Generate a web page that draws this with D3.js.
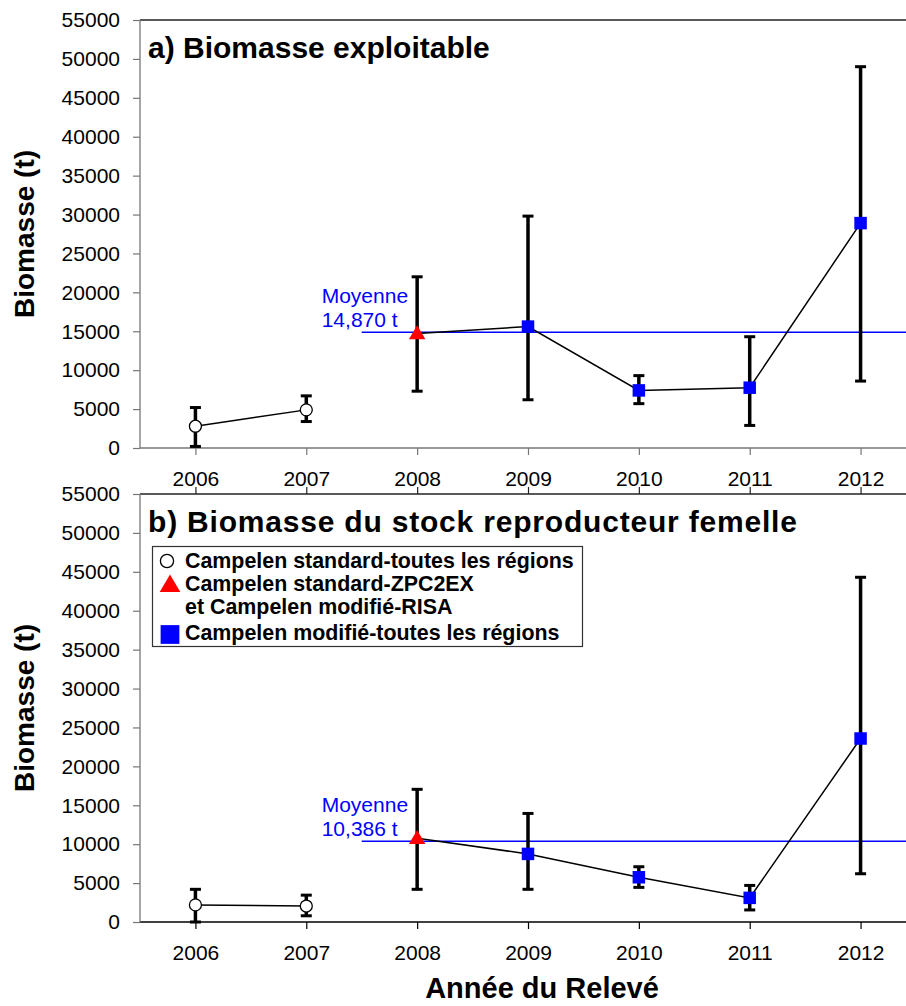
<!DOCTYPE html>
<html>
<head>
<meta charset="utf-8">
<script src="https://cdn.jsdelivr.net/npm/d3@7"></script>
<style>
  html, body { margin: 0; padding: 0; background: #fff; }
  svg { display: block; }
  text { font-family: "Liberation Sans", Arial, Helvetica, sans-serif; }
</style>
</head>
<body>
<svg id="chart" width="906" height="1006"></svg>
<script>
// ---------- data ----------
const years = [2006, 2007, 2008, 2009, 2010, 2011, 2012];
const markerTypes = ["circle", "circle", "triangle", "square", "square", "square", "square"];
const connectedGroups = [[2006, 2007], [2008, 2009, 2010, 2011, 2012]];

const exploitable     = [2800, 4900, 14700, 15600, 7400, 7750, 28900];
const exploitableLow  = [200, 3400, 7300, 6200, 5700, 2900, 8600];
const exploitableHigh = [5200, 6700, 22000, 29800, 9300, 14300, 49000];
const exploitableMean = 14870;

const spawning     = [2200, 2050, 10750, 8750, 5750, 3100, 23580];
const spawningLow  = [0, 800, 4200, 4200, 4450, 1550, 6200];
const spawningHigh = [4200, 3450, 17050, 13950, 7100, 4700, 44300];
const spawningMean = 10386;

const yTicks = d3.range(0, 55001, 5000);
const panelTitles = ["a) Biomasse exploitable", "b) Biomasse du stock reproducteur femelle"];
const meanLabels = [["Moyenne", "14,870 t"], ["Moyenne", "10,386 t"]];
const legendLabels = [
  "Campelen standard-toutes les régions",
  "Campelen standard-ZPC2EX",
  "et Campelen modifié-RISA",
  "Campelen modifié-toutes les régions"
];
const yAxisTitle = "Biomasse (t)";
const xAxisTitle = "Année du Relevé";
const meanStartYear = 2007.5;

// ---------- layout ----------
const svg = d3.select("#chart");
const W = 906;
const left = 140;
const x = d3.scaleLinear().domain([2005.5, 2012.5]).range([left, 916]);

const panels = [
  { top: 20, bottom: 448, vals: exploitable, lo: exploitableLow, hi: exploitableHigh, mean: exploitableMean, xAxisColor: "#777", topTicks: false, titleSpacing: 0 },
  { top: 494, bottom: 922, vals: spawning, lo: spawningLow, hi: spawningHigh, mean: spawningMean, xAxisColor: "#000", topTicks: true, titleSpacing: 0.8 }
];

function drawMarker(g, type, cx, cy, scale) {
  if (type === "circle") {
    g.append("circle").attr("cx", cx).attr("cy", cy).attr("r", 6 * scale)
      .attr("fill", "#fff").attr("stroke", "#000").attr("stroke-width", 1.3);
  } else if (type === "triangle") {
    const w = 16.5 * scale, h = 14 * scale;
    g.append("path")
      .attr("d", `M${cx},${cy - h * 0.6}L${cx + w / 2},${cy + h * 0.4}L${cx - w / 2},${cy + h * 0.4}Z`)
      .attr("fill", "#ff0000");
  } else {
    const s = 12.5 * scale;
    g.append("rect").attr("x", cx - s / 2).attr("y", cy - s / 2).attr("width", s).attr("height", s)
      .attr("fill", "#0000ff");
  }
}

panels.forEach((p, pi) => {
  const y = d3.scaleLinear().domain([0, 55000]).range([p.bottom, p.top]);
  const g = svg.append("g");

  // top border
  g.append("line").attr("x1", left).attr("x2", W).attr("y1", p.top).attr("y2", p.top)
    .attr("stroke", "#222").attr("stroke-width", 1.3);
  if (p.topTicks) {
    const ta = g.append("g").attr("transform", `translate(0,${p.top})`)
      .call(d3.axisTop(x).tickValues(years).tickSize(7).tickFormat(""));
    ta.select(".domain").remove();
    ta.selectAll("line").attr("stroke", "#222").attr("stroke-width", 1.2);
  }

  // x axis
  const xa = g.append("g").attr("transform", `translate(0,${p.bottom})`)
    .call(d3.axisBottom(x).tickValues(years).tickSize(7).tickFormat(d3.format("d")));
  xa.select(".domain").remove();
  xa.append("line").attr("x1", left).attr("x2", W).attr("y1", 0).attr("y2", 0)
    .attr("stroke", p.xAxisColor).attr("stroke-width", 1.3);
  xa.selectAll(".tick line").attr("stroke", p.xAxisColor).attr("stroke-width", 1.2);
  xa.selectAll(".tick text").attr("y", 38).attr("dy", null)
    .attr("font-size", 21).attr("fill", "#000")
    .style("font-family", '"Liberation Sans", Arial, sans-serif');

  // y axis
  const ya = g.append("g").attr("transform", `translate(${left},0)`)
    .call(d3.axisLeft(y).tickValues(yTicks).tickSize(7).tickPadding(13).tickFormat(d3.format("d")));
  ya.select(".domain").attr("stroke", "#777").attr("stroke-width", 1.3)
    .attr("d", `M0,${p.top}V${p.bottom}`);
  ya.selectAll(".tick line").attr("stroke", "#777").attr("stroke-width", 1.2);
  ya.selectAll(".tick text").attr("font-size", 21).attr("fill", "#000")
    .style("font-family", '"Liberation Sans", Arial, sans-serif');

  // panel title
  g.append("text").attr("x", 148).attr("y", p.top + 38)
    .attr("font-size", 30).attr("font-weight", "bold")
    .attr("letter-spacing", p.titleSpacing).text(panelTitles[pi]);

  // y axis title
  g.append("text").attr("transform", "rotate(-90)")
    .attr("x", -(p.top + p.bottom) / 2).attr("y", 34)
    .attr("text-anchor", "middle").attr("font-size", 28).attr("font-weight", "bold")
    .text(yAxisTitle);

  // mean line
  const my = y(p.mean);
  g.append("line").attr("x1", x(meanStartYear)).attr("x2", W).attr("y1", my).attr("y2", my)
    .attr("stroke", "#0000ff").attr("stroke-width", 1.5);
  g.append("text").attr("x", 321.7).attr("y", my - 29).attr("font-size", 21).attr("fill", "#0000ff").text(meanLabels[pi][0]);
  g.append("text").attr("x", 321.7).attr("y", my - 5).attr("font-size", 21).attr("fill", "#0000ff").text(meanLabels[pi][1]);

  // connecting lines
  const line = d3.line().x(d => x(d.year)).y(d => y(d.v));
  connectedGroups.forEach(grp => {
    const pts = grp.map(yr => ({ year: yr, v: p.vals[years.indexOf(yr)] }));
    g.append("path").attr("d", line(pts)).attr("fill", "none").attr("stroke", "#000").attr("stroke-width", 1.5);
  });

  // error bars
  years.forEach((yr, i) => {
    const cx = x(yr);
    g.append("line").attr("x1", cx).attr("x2", cx).attr("y1", y(p.lo[i])).attr("y2", y(p.hi[i]))
      .attr("stroke", "#000").attr("stroke-width", 3.5);
    [p.lo[i], p.hi[i]].forEach(v => {
      g.append("line").attr("x1", cx - 5.5).attr("x2", cx + 5.5).attr("y1", y(v)).attr("y2", y(v))
        .attr("stroke", "#000").attr("stroke-width", 3);
    });
  });

  // markers
  years.forEach((yr, i) => drawMarker(g, markerTypes[i], x(yr), y(p.vals[i]), 1));
});

// legend
const lg = svg.append("g");
lg.append("rect").attr("x", 152.5).attr("y", 546.5).attr("width", 430).attr("height", 100)
  .attr("fill", "#fff").attr("stroke", "#333").attr("stroke-width", 1.2);
const legendBaselines = [568, 591, 613.5, 640];
legendLabels.forEach((t, i) => {
  lg.append("text").attr("x", 185).attr("y", legendBaselines[i])
    .attr("font-size", 21.4).attr("font-weight", "bold").text(t);
});
drawMarker(lg, "circle", 167, 561, 1.1);
drawMarker(lg, "triangle", 170, 585, 1.25);
drawMarker(lg, "square", 170, 634.5, 1.5);

// x axis title
svg.append("text").attr("x", 542).attr("y", 998).attr("text-anchor", "middle")
  .attr("font-size", 29).attr("font-weight", "bold").text(xAxisTitle);
</script>
</body>
</html>
